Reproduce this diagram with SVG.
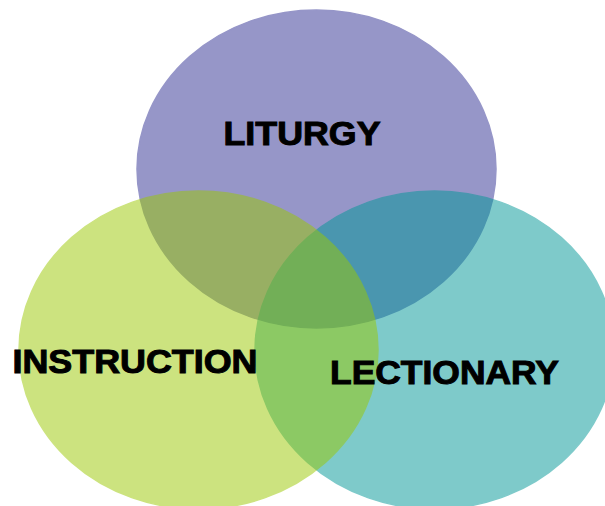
<svg xmlns="http://www.w3.org/2000/svg" width="605" height="506" viewBox="0 0 605 506">
<style>
.c{opacity:0.5;stroke-width:1.5}
.t{font-family:"Liberation Sans",Arial,sans-serif;font-weight:bold;font-size:33px;fill:#000;stroke:#000;stroke-width:1}
</style>
<rect width="605" height="506" fill="#fff"/>
<g id="liturgy">
<ellipse class="c" cx="316.5" cy="169" rx="179.5" ry="159" fill="#2f2f93" stroke="#2f2f93"/>
</g>
<g id="lectionary">
<ellipse class="c" cx="434.5" cy="350" rx="179.5" ry="159" fill="#009797" stroke="#009797"/>
</g>
<g id="instruction">
<ellipse class="c" cx="198.5" cy="350" rx="179.5" ry="159" fill="#9bc901" stroke="#9bc901"/>
</g>
<g id="labels">
<text class="t" x="223.5" y="145" textLength="157" lengthAdjust="spacingAndGlyphs">LITURGY</text>
<text class="t" x="12.5" y="373" textLength="245" lengthAdjust="spacingAndGlyphs">INSTRUCTION</text>
<text class="t" x="330" y="384" textLength="229" lengthAdjust="spacingAndGlyphs">LECTIONARY</text>
</g>
</svg>
